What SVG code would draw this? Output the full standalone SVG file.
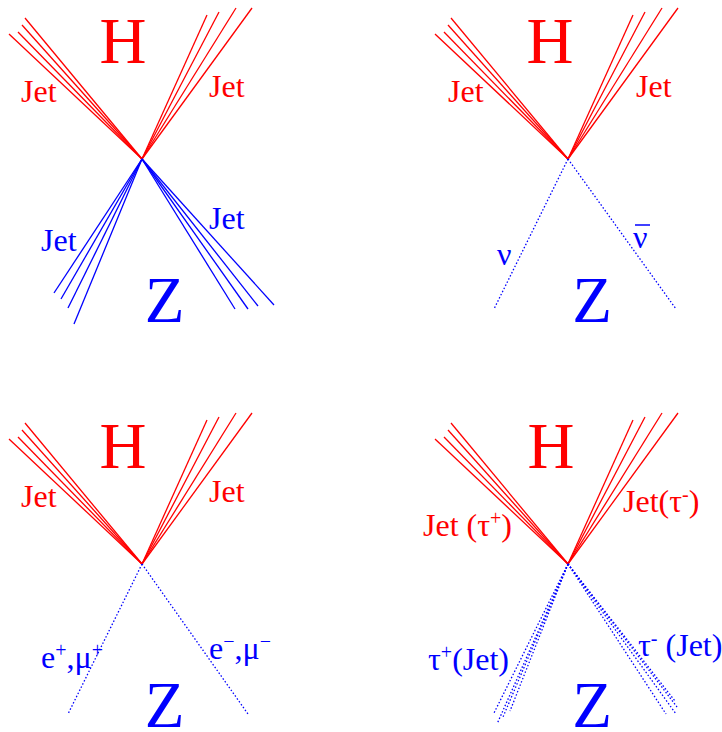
<svg xmlns="http://www.w3.org/2000/svg" xmlns:xlink="http://www.w3.org/1999/xlink" width="722" height="732" viewBox="0 0 722 732">
<style>
  .red { fill: #ff0000; }
  .blue { fill: #0000ff; }
  text { font-family: "Liberation Serif", "Times New Roman", serif; }
  .big { font-size: 65px; text-anchor: middle; }
  .lbl { font-size: 32px; }
  .sup { font-size: 20px; }
  .rl { stroke: #ff0000; stroke-width: 1.3; fill: none; }
  .bl { stroke: #0000ff; stroke-width: 1.3; fill: none; }
  .bd { stroke: #0000ff; stroke-width: 1.3; fill: none; stroke-dasharray: 1.5 2; }
</style>
<defs>
  <g id="redfan" class="rl">
    <line x1="0" y1="0" x2="-133" y2="-125"/>
    <line x1="0" y1="0" x2="-124" y2="-127"/>
    <line x1="0" y1="0" x2="-120" y2="-134"/>
    <line x1="0" y1="0" x2="-117" y2="-141"/>
    <line x1="0" y1="0" x2="65" y2="-144"/>
    <line x1="0" y1="0" x2="77" y2="-147"/>
    <line x1="0" y1="0" x2="94" y2="-151"/>
    <line x1="0" y1="0" x2="110" y2="-151"/>
  </g>
</defs>
<rect width="722" height="732" fill="#ffffff"/>
<g id="connectors">
  <use xlink:href="#redfan" href="#redfan" transform="translate(142,159)"/>
  <use xlink:href="#redfan" href="#redfan" transform="translate(568,159)"/>
  <use xlink:href="#redfan" href="#redfan" transform="translate(142,564)"/>
  <use xlink:href="#redfan" href="#redfan" transform="translate(568,564)"/>
  <g class="bl">
    <line x1="142" y1="159" x2="54" y2="293"/>
    <line x1="142" y1="159" x2="61" y2="299"/>
    <line x1="142" y1="159" x2="68" y2="308"/>
    <line x1="142" y1="159" x2="74" y2="324"/>
    <line x1="142" y1="159" x2="235" y2="309"/>
    <line x1="142" y1="159" x2="248" y2="309"/>
    <line x1="142" y1="159" x2="258" y2="306"/>
    <line x1="142" y1="159" x2="274" y2="305"/>
  </g>
  <g class="bd">
    <line x1="568" y1="159" x2="494" y2="309"/>
    <line x1="568" y1="159" x2="676" y2="309"/>
    <line x1="142" y1="564" x2="68" y2="714"/>
    <line x1="142" y1="564" x2="248" y2="714"/>
    <line x1="568" y1="564" x2="494" y2="713"/>
    <line x1="568" y1="564" x2="497" y2="724"/>
    <line x1="568" y1="564" x2="503" y2="717"/>
    <line x1="568" y1="564" x2="510" y2="711"/>
    <line x1="568" y1="564" x2="666" y2="714"/>
    <line x1="568" y1="564" x2="676" y2="714"/>
    <line x1="568" y1="564" x2="677" y2="707"/>
    <line x1="568" y1="564" x2="675" y2="701"/>
  </g>
</g>
<g id="panel1">
  <g id="p1-H"><text class="big red" x="123" y="63">H</text></g>
  <g id="p1-Z"><text class="big blue" x="164.5" y="322">Z</text></g>
  <g id="p1-jet-l"><text class="lbl red" x="21" y="102">Jet</text></g>
  <g id="p1-jet-r"><text class="lbl red" x="209" y="97">Jet</text></g>
  <g id="p1-jet-bl"><text class="lbl blue" x="41" y="251">Jet</text></g>
  <g id="p1-jet-br"><text class="lbl blue" x="209" y="229">Jet</text></g>
</g>
<g id="panel2">
  <g id="p2-H"><text class="big red" x="550" y="63">H</text></g>
  <g id="p2-Z"><text class="big blue" x="592" y="322">Z</text></g>
  <g id="p2-jet-l"><text class="lbl red" x="448" y="102">Jet</text></g>
  <g id="p2-jet-r"><text class="lbl red" x="636" y="97">Jet</text></g>
  <g id="p2-nu"><text class="lbl blue" x="497" y="265">ν</text></g>
  <g id="p2-nubar"><text class="lbl blue" x="633" y="248">ν</text><line x1="635" y1="225" x2="650" y2="225" stroke="#0000ff" stroke-width="1.5"/></g>
</g>
<g id="panel3">
  <g id="p3-H"><text class="big red" x="123" y="468">H</text></g>
  <g id="p3-Z"><text class="big blue" x="164.5" y="727">Z</text></g>
  <g id="p3-jet-l"><text class="lbl red" x="21" y="507">Jet</text></g>
  <g id="p3-jet-r"><text class="lbl red" x="209" y="502">Jet</text></g>
  <g id="p3-lep-l"><text class="lbl blue" x="41" y="668">e<tspan class="sup" dy="-11">+</tspan><tspan dy="11">,μ</tspan><tspan class="sup" dy="-11">+</tspan></text></g>
  <g id="p3-lep-r"><text class="lbl blue" x="209" y="659">e<tspan class="sup" dy="-11">−</tspan><tspan dy="11">,μ</tspan><tspan class="sup" dy="-11">−</tspan></text></g>
</g>
<g id="panel4">
  <g id="p4-H"><text class="big red" x="551" y="468">H</text></g>
  <g id="p4-Z"><text class="big blue" x="592" y="727">Z</text></g>
  <g id="p4-jet-l"><text class="lbl red" x="423" y="536">Jet (τ<tspan class="sup" dy="-11">+</tspan><tspan dy="11">)</tspan></text></g>
  <g id="p4-jet-r"><text class="lbl red" x="623" y="512">Jet(τ<tspan class="sup" dy="-11">-</tspan><tspan dy="11">)</tspan></text></g>
  <g id="p4-tau-l"><text class="lbl blue" x="428" y="670">τ<tspan class="sup" dy="-11">+</tspan><tspan dy="11">(Jet)</tspan></text></g>
  <g id="p4-tau-r"><text class="lbl blue" x="638" y="656">τ<tspan class="sup" dy="-11">-</tspan><tspan dy="11"> (Jet)</tspan></text></g>
</g>
</svg>
